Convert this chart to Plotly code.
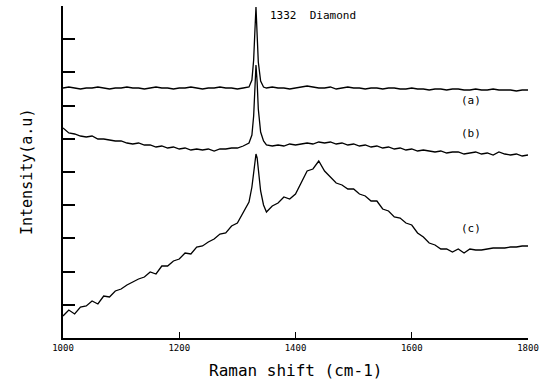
import plotly.graph_objects as go

# Raman shift sampling (cm-1)
shift = (list(range(1000, 1330, 10))
         + [1325, 1328, 1330, 1332, 1334, 1336, 1340, 1345]
         + list(range(1350, 1810, 10)))

# Intensity (a.u.)
curve_a = [250, 251, 250, 249, 250, 250, 251, 250, 249, 250,
           250, 251, 250, 250, 249, 250, 251, 250, 250, 249,
           250, 250, 251, 250, 249, 250, 250, 251, 250, 250,
           249, 250, 251,
           258, 278, 305, 331, 303, 276, 257, 251,
           250, 251, 250, 250, 249, 250, 251, 252, 251, 250,
           250, 251, 249, 250, 251, 250, 250, 249, 250, 250,
           249, 250, 250, 249, 249, 250, 249, 249, 248, 249,
           249, 248, 249, 249, 248, 248, 249, 248, 248, 249,
           248, 248, 248, 247, 248, 248]

curve_b = [210, 205, 204, 202, 201, 202, 199, 199, 198, 197,
           197, 195, 194, 195, 193, 193, 191, 192, 190, 191,
           189, 190, 188, 189, 188, 189, 187, 189, 189, 190,
           190, 192, 195,
           203, 222, 247, 273, 256, 229, 206, 197,
           193, 192, 193, 192, 194, 193, 194, 195, 194, 196,
           195, 196, 194, 195, 193, 194, 192, 193, 191, 192,
           190, 191, 189, 190, 188, 189, 187, 188, 187, 186,
           187, 185, 186, 186, 184, 185, 186, 184, 185, 183,
           186, 184, 183, 184, 182, 183]

curve_c = [22, 28, 24, 31, 32, 37, 34, 42, 41, 47,
           49, 53, 56, 59, 61, 66, 64, 72, 72, 77,
           79, 85, 84, 91, 92, 96, 99, 104, 105, 112,
           115, 125, 136,
           151, 166, 178, 184, 180, 167, 147, 133,
           126, 132, 135, 141, 139, 144, 155, 167, 169, 177,
           167, 161, 155, 153, 149, 149, 144, 142, 137, 137,
           129, 127, 121, 120, 115, 113, 105, 101, 95, 93,
           89, 89, 86, 89, 85, 89, 88, 88, 89, 90,
           90, 90, 91, 91, 92, 92]

labels = ["(a)", "(b)", "(c)"]
label_x = [1702, 1702, 1702]
label_y = [238, 205, 110]

x_ticks = [1000, 1200, 1400, 1600, 1800]
y_ticks = [33.2 * k for k in range(1, 11)]

MONO = "DejaVu Sans Mono"

fig = go.Figure()
for ys in (curve_a, curve_b, curve_c):
    fig.add_trace(go.Scatter(x=shift, y=ys, mode="lines",
                             line=dict(color="black", width=1.3),
                             showlegend=False, hoverinfo="skip"))

for t, lx, ly in zip(labels, label_x, label_y):
    fig.add_annotation(x=lx, y=ly, text=t, showarrow=False,
                       font=dict(family=MONO, size=11, color="black"))

fig.add_annotation(x=1353, y=323, text="1332  Diamond", showarrow=False,
                   xanchor="left", font=dict(family=MONO, size=11, color="black"))

fig.add_annotation(xref="paper", yref="paper", x=0.5, y=-32 / 332,
                   text="Raman shift (cm-1)", showarrow=False, yanchor="middle",
                   font=dict(family=MONO, size=16, color="black"))
fig.add_annotation(xref="paper", yref="paper", x=-36 / 465, y=0.5,
                   text="Intensity(a.u)", showarrow=False, textangle=-90,
                   xanchor="center", yanchor="middle",
                   font=dict(family=MONO, size=15, color="black"))

fig.update_layout(
    width=554, height=381,
    margin=dict(l=63, r=26, t=6, b=43),
    paper_bgcolor="white", plot_bgcolor="white",
    xaxis=dict(range=[1000, 1800], showline=True, linecolor="black", linewidth=1.5,
               ticks="inside", ticklen=6, tickcolor="black", tickvals=x_ticks,
               ticktext=[str(v) for v in x_ticks],
               tickfont=dict(family=MONO, size=9, color="black"),
               showgrid=False, zeroline=False),
    yaxis=dict(range=[0, 332], showline=True, linecolor="black", linewidth=1.5,
               ticks="inside", ticklen=12, tickcolor="black", tickwidth=1.5,
               tickvals=y_ticks, showticklabels=False,
               showgrid=False, zeroline=False),
)

fig.write_html("out.html", config={"displayModeBar": False},
               post_script="document.body.style.margin='0';")
